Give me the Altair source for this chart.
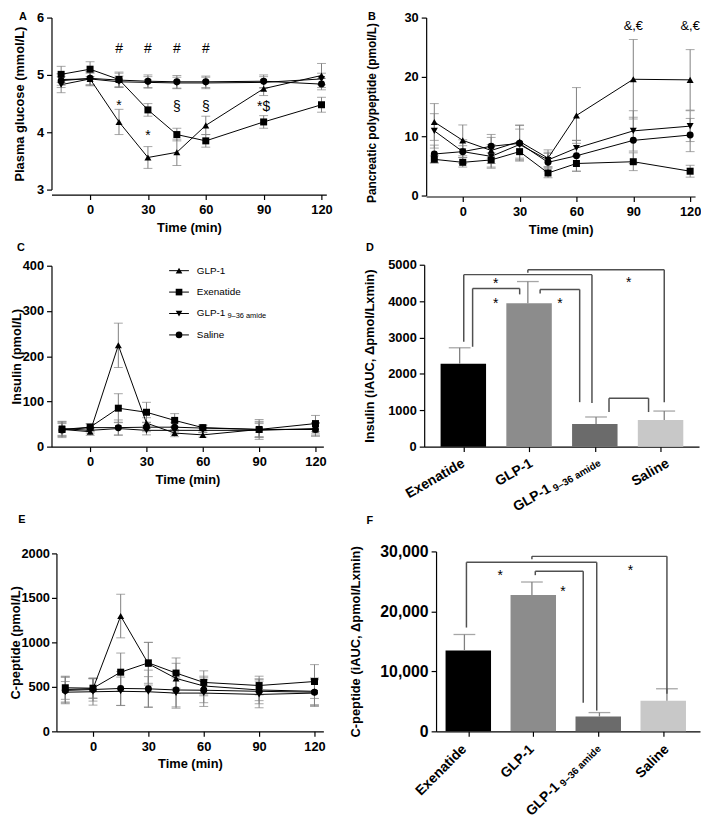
import math
import altair as alt
import pandas as pd

# ---------------- data ----------------
TIME = [-15, 0, 15, 30, 45, 60, 90, 120]
SERIES = ["GLP-1", "Exenatide", "GLP-1 9–36 amide", "Saline"]
GROUPS = ["Exenatide", "GLP-1", "GLP-1 9–36 amide", "Saline"]

GLUCOSE_MEAN = {
    "GLP-1": [4.92, 4.93, 4.18, 3.56, 3.65, 4.12, 4.76, 4.99],
    "Exenatide": [5.01, 5.10, 4.92, 4.39, 3.96, 3.85, 4.18, 4.48],
    "GLP-1 9–36 amide": [4.83, 4.93, 4.88, 4.87, 4.86, 4.86, 4.87, 4.93],
    "Saline": [4.90, 4.94, 4.91, 4.89, 4.88, 4.88, 4.89, 4.84],
}
GLUCOSE_SEM = {
    "GLP-1": [0.10, 0.10, 0.22, 0.19, 0.23, 0.16, 0.12, 0.21],
    "Exenatide": [0.14, 0.13, 0.13, 0.11, 0.11, 0.11, 0.11, 0.13],
    "GLP-1 9–36 amide": [0.14, 0.12, 0.10, 0.10, 0.10, 0.10, 0.10, 0.10],
    "Saline": [0.12, 0.12, 0.12, 0.11, 0.11, 0.10, 0.11, 0.10],
}
GLUCOSE_NOTE_T = [15, 30, 45, 60, 15, 30, 45, 60, 90]
GLUCOSE_NOTE_Y = [5.45, 5.45, 5.45, 5.45, 4.46, 3.94, 4.445, 4.445, 4.445]
GLUCOSE_NOTE_TEXT = ["#", "#", "#", "#", "*", "*", "§", "§", "*$"]

PP_MEAN = {
    "GLP-1": [12.4, 9.3, 7.6, 9.1, 6.3, 13.5, 19.6, 19.5],
    "Exenatide": [6.1, 5.6, 6.0, 7.4, 3.8, 5.4, 5.7, 4.1],
    "GLP-1 9–36 amide": [10.9, 7.4, 6.6, 8.6, 6.0, 8.0, 10.9, 11.7],
    "Saline": [7.0, 7.4, 8.3, 8.8, 5.6, 6.7, 9.3, 10.2],
}
PP_SEM = {
    "GLP-1": [3.1, 2.6, 2.2, 2.8, 1.4, 4.7, 6.7, 5.1],
    "Exenatide": [0.6, 0.8, 1.2, 1.4, 0.8, 1.3, 1.5, 1.0],
    "GLP-1 9–36 amide": [2.9, 2.0, 2.0, 2.6, 1.3, 1.3, 3.4, 2.6],
    "Saline": [1.5, 1.0, 2.0, 3.0, 1.5, 2.6, 3.9, 2.8],
}
PP_NOTE_T = [90, 120]
PP_NOTE_Y = [28.5, 28.5]
PP_NOTE_TEXT = ["&,€", "&,€"]

INSULIN_MEAN = {
    "GLP-1": [38, 33, 224, 52, 30, 26, 38, 38],
    "Exenatide": [38, 43, 85, 76, 58, 42, 38, 51],
    "GLP-1 9–36 amide": [40, 36, 40, 36, 36, 36, 36, 40],
    "Saline": [37, 42, 42, 43, 43, 41, 38, 38],
}
INSULIN_SEM = {
    "GLP-1": [15, 8, 49, 12, 8, 5, 18, 15],
    "Exenatide": [18, 8, 32, 22, 15, 6, 22, 18],
    "GLP-1 9–36 amide": [15, 6, 14, 10, 8, 5, 15, 12],
    "Saline": [14, 8, 17, 10, 10, 6, 16, 14],
}

CPEP_MEAN = {
    "GLP-1": [470, 480, 1296, 760, 595, 510, 465, 450],
    "Exenatide": [490, 485, 665, 770, 655, 550, 515, 560],
    "GLP-1 9–36 amide": [440, 445, 450, 445, 430, 430, 415, 430],
    "Saline": [460, 470, 482, 478, 465, 462, 450, 440],
}
CPEP_SEM = {
    "GLP-1": [140, 110, 245, 240, 170, 110, 120, 150],
    "Exenatide": [130, 110, 215, 230, 170, 130, 105, 190],
    "GLP-1 9–36 amide": [120, 150, 160, 170, 170, 150, 150, 150],
    "Saline": [150, 130, 190, 210, 190, 140, 140, 150],
}

INSULIN_AUC = [2280, 3940, 625, 734]
INSULIN_AUC_SEM = [437, 598, 190, 244]
CPEP_AUC = [13500, 22750, 2470, 5100]
CPEP_AUC_SEM = [2650, 2150, 660, 2000]

# significance brackets: left group pos, right group pos, top, left-leg end, right-leg end
INSULIN_BRACKETS = [
    (1.00, 3.00, 4864, 4783, 1223),
    (0.06, 1.94, 4728, 2880, 1196),
    (0.19, 0.88, 4348, 2745, 4185),
    (1.18, 1.76, 4321, 4212, 1223),
    (2.19, 2.77, 1332, 951, 951),
]
INSULIN_STARS = [(2.48, 4484), (0.53, 4457), (0.53, 3913), (1.47, 3913)]
CPEP_BRACKETS = [
    (1.00, 3.00, 29176, 28681, 6264),
    (0.03, 1.96, 28187, 17308, 3462),
    (1.05, 1.76, 26703, 26044, 4780),
]
CPEP_STARS = [(2.46, 26703), (0.53, 25879), (1.46, 23242)]

# ---------------- style ----------------
FONT = "Liberation Sans, Arial, Helvetica, sans-serif"
SHAPE_SCALE = alt.Scale(domain=SERIES, range=["triangle-up", "square", "triangle-down", "circle"])
BAR_SCALE = alt.Scale(domain=GROUPS, range=["#000000", "#8c8c8c", "#6b6b6b", "#c8c8c8"])
ERR_COLOR = "#808080"
BRACKET_COLOR = "#505050"
W, H = 701, 814


def off(page_y):
    """axis offset that puts a bottom axis at a page row"""
    return page_y - 8 - H


def axis(orient, offset, values, title, title_pad, label_pad, fmt=None, labels=True,
         label_size=13, title_size=13, title_y=None):
    kw = dict(orient=orient, offset=offset, values=values, grid=False, labels=labels,
              labelFont=FONT, labelFontSize=label_size, labelFontWeight="bold", labelColor="black",
              labelPadding=label_pad, labelFlush=False, labelOverlap=False,
              tickSize=5, tickWidth=1.2, tickColor="black", domainColor="black", domainWidth=1.2,
              title=title, titleFont=FONT, titleFontSize=title_size, titleFontWeight="bold",
              titleColor="black", titlePadding=title_pad)
    if fmt:
        kw["format"] = fmt
    if title_y is not None:
        kw["titleY"] = title_y
    return alt.Axis(**kw)


def time_panel(mean, sem, xdom, xrng, ydom, yrng, xoff, yoff, yvals, ytitle, ytpad,
               notes=None, yfmt=None, ylpad=3, ytsize=13, ytitle_y=None):
    rows = []
    for s in SERIES:
        for t, m, e in zip(TIME, mean[s], sem[s]):
            rows.append({"series": s, "time": t, "mean": m, "lo": m - e, "hi": m + e})
    df = pd.DataFrame(rows)

    def xs():
        return alt.Scale(domain=xdom, range=xrng, nice=False, zero=False)

    def ys():
        return alt.Scale(domain=ydom, range=yrng, nice=False, zero=False)

    def X():
        return alt.X("time:Q", scale=xs(), axis=None)

    base = alt.Chart(df)
    err = base.mark_rule(color=ERR_COLOR, strokeWidth=1).encode(
        x=alt.X("time:Q", scale=xs(), axis=axis("bottom", xoff, [0, 30, 60, 90, 120], "Time (min)", 5, 4)),
        y=alt.Y("lo:Q", scale=ys(), axis=axis("left", yoff, yvals, ytitle, ytpad, ylpad, fmt=yfmt,
                                               title_size=ytsize, title_y=ytitle_y)),
        y2="hi:Q",
    )
    cap_lo = base.mark_tick(color=ERR_COLOR, orient="horizontal", size=9, thickness=1).encode(
        x=X(), y=alt.Y("lo:Q", scale=ys(), axis=None))
    cap_hi = base.mark_tick(color=ERR_COLOR, orient="horizontal", size=9, thickness=1).encode(
        x=X(), y=alt.Y("hi:Q", scale=ys(), axis=None))
    line = base.mark_line(color="black", strokeWidth=1).encode(
        x=X(), y=alt.Y("mean:Q", scale=ys(), axis=None), detail="series:N", order="time:Q")
    pts = base.mark_point(filled=True, color="black", opacity=1, size=50).encode(
        x=X(), y=alt.Y("mean:Q", scale=ys(), axis=None),
        shape=alt.Shape("series:N", scale=SHAPE_SCALE, legend=None))
    layers = [err, cap_lo, cap_hi, line, pts]
    if notes:
        nt, ny, ntext, fsize = notes
        ndf = pd.DataFrame({"time": nt, "y": ny, "label": ntext})
        layers.append(alt.Chart(ndf).mark_text(font=FONT, fontSize=fsize, color="black",
                                               baseline="middle", align="center").encode(
            x=X(), y=alt.Y("y:Q", scale=ys(), axis=None), text="label:N"))
    return layers


def rot_offset(sx, sy, angle):
    a = math.radians(angle)
    c, s = math.cos(a), math.sin(a)
    return c * sx + s * sy, -s * sx + c * sy


def bar_panel(vals, sems, brackets, stars, xdom, xrng, ydom, yrng, xoff, yoff, yvals,
              ytitle, ytpad, yfmt, ylsize, angle, lab_off, sub_size, sub_shift):
    df = pd.DataFrame({"group": GROUPS, "pos": list(range(len(GROUPS))), "val": vals,
                       "hi": [v + e for v, e in zip(vals, sems)]})

    def xs():
        return alt.Scale(domain=xdom, range=xrng, nice=False, zero=False)

    def ys():
        return alt.Scale(domain=ydom, range=yrng, nice=False, zero=False)

    def X(f="pos:Q"):
        return alt.X(f, scale=xs(), axis=None)

    def Y(f):
        return alt.Y(f, scale=ys(), axis=None)

    bars = alt.Chart(df).transform_calculate(base="0").mark_bar(size=46).encode(
        x=alt.X("pos:Q", scale=xs(), axis=axis("bottom", xoff, [0, 1, 2, 3], "", 0, 0, labels=False)),
        y=alt.Y("val:Q", scale=ys(), axis=axis("left", yoff, yvals, ytitle, ytpad, 3, fmt=yfmt,
                                                label_size=ylsize)),
        y2="base:Q",
        color=alt.Color("group:N", scale=BAR_SCALE, legend=None),
    )
    err = alt.Chart(df).mark_rule(color=ERR_COLOR, strokeWidth=1.3).encode(
        x=X(), y=Y("val:Q"), y2="hi:Q")
    cap = alt.Chart(df).mark_tick(color=ERR_COLOR, orient="horizontal", size=22, thickness=1.3).encode(
        x=X(), y=Y("hi:Q"))

    bdf = pd.DataFrame(brackets, columns=["xl", "xr", "top", "bl", "br"])
    bch = alt.Chart(bdf)
    hor = bch.mark_rule(color=BRACKET_COLOR, strokeWidth=1.5).encode(
        x=X("xl:Q"), x2="xr:Q", y=Y("top:Q"))
    leg_l = bch.mark_rule(color=BRACKET_COLOR, strokeWidth=1.5).encode(
        x=X("xl:Q"), y=Y("top:Q"), y2="bl:Q")
    leg_r = bch.mark_rule(color=BRACKET_COLOR, strokeWidth=1.5).encode(
        x=X("xr:Q"), y=Y("top:Q"), y2="br:Q")
    sdf = pd.DataFrame(stars, columns=["sx", "sy"]).assign(label="*")
    st = alt.Chart(sdf).mark_text(font=FONT, fontSize=14, color="black", baseline="middle").encode(
        x=X("sx:Q"), y=Y("sy:Q"), text="label:N")

    main = [g.split(" ")[0] if "amide" in g else g for g in GROUPS]
    sub = [g.split(" ", 1)[1] if "amide" in g else "" for g in GROUPS]
    ldf = pd.DataFrame({"pos": list(range(len(GROUPS))), "main": main, "sub": sub,
                        "has_sub": [s != "" for s in sub]})
    dx, dy = rot_offset(lab_off[0], lab_off[1], angle)
    common = dict(font=FONT, fontWeight="bold", color="black", angle=angle, align="right",
                  baseline="middle")
    lab_plain = alt.Chart(ldf).transform_filter("!datum.has_sub").transform_calculate(base="0").mark_text(
        fontSize=14, dx=dx, dy=dy, **common).encode(x=X(), y=Y("base:Q"), text="main:N")
    lab_main = alt.Chart(ldf).transform_filter("datum.has_sub").transform_calculate(base="0").mark_text(
        fontSize=14, dx=dx - sub_shift, dy=dy - 3, **common).encode(x=X(), y=Y("base:Q"), text="main:N")
    lab_sub = alt.Chart(ldf).transform_filter("datum.has_sub").transform_calculate(base="0").mark_text(
        fontSize=sub_size, dx=dx, dy=dy, **common).encode(x=X(), y=Y("base:Q"), text="sub:N")
    return [bars, err, cap, hor, leg_l, leg_r, st, lab_plain, lab_main, lab_sub]


def letter(ch, x, y):
    return alt.Chart(pd.DataFrame({"k": [0]})).mark_text(
        font=FONT, fontSize=11, fontWeight="bold", color="black", align="center", baseline="middle"
    ).encode(x=alt.value(x), y=alt.value(y), text=alt.value(ch))


def legend_layers():
    ldf = pd.DataFrame({"series": SERIES, "idx": list(range(len(SERIES))),
                        "main": [s.split(" ")[0] for s in SERIES],
                        "sub": [s.split(" ", 1)[1] if " " in s else "" for s in SERIES]})

    def Y():
        return alt.Y("idx:Q", scale=alt.Scale(domain=[0, 3], range=[261, 326], nice=False, zero=False),
                     axis=None)

    base = alt.Chart(ldf)
    ln = base.mark_rule(color="black", strokeWidth=1).encode(x=alt.value(163), x2=alt.value(183), y=Y())
    pt = base.mark_point(filled=True, color="black", opacity=1, size=45).encode(
        x=alt.value(173), y=Y(), shape=alt.Shape("series:N", scale=SHAPE_SCALE, legend=None))
    tx = base.mark_text(font=FONT, fontSize=10, color="black", align="left", baseline="middle").encode(
        x=alt.value(191), y=Y(), text="main:N")
    sb = base.transform_filter("datum.sub != ''").mark_text(
        font=FONT, fontSize=7.5, color="black", align="left", baseline="middle", dy=3).encode(
        x=alt.value(222), y=Y(), text="sub:N")
    return [ln, pt, tx, sb]


layers = []
layers += time_panel(GLUCOSE_MEAN, GLUCOSE_SEM, [-20, 122.5], [44, 322], [3, 6], [179, 5],
                     off(192), -44, [3, 4, 5, 6], "Plasma glucose (mmol/L)", 10,
                     notes=(GLUCOSE_NOTE_T, GLUCOSE_NOTE_Y, GLUCOSE_NOTE_TEXT, 14))
layers += time_panel(PP_MEAN, PP_SEM, [-19.3, 122.6], [423, 695], [0, 30], [185, 5],
                     off(194), -423, [0, 10, 20, 30], "Pancreatic polypeptide (pmol/L)", 26,
                     notes=(PP_NOTE_T, PP_NOTE_Y, PP_NOTE_TEXT, 13), ytsize=12, ytitle_y=101)
layers += time_panel(INSULIN_MEAN, INSULIN_SEM, [-20.6, 124.2], [44, 319], [0, 400], [439, 256],
                     off(447), -44, [0, 100, 200, 300, 400], "Insulin (pmol/L)", -1)
layers += bar_panel(INSULIN_AUC, INSULIN_AUC_SEM, INSULIN_BRACKETS, INSULIN_STARS,
                    [-0.52, 3.51], [421, 699], [0, 5000], [439, 255], off(447), -421,
                    [0, 1000, 2000, 3000, 4000, 5000], "Insulin (iAUC, Δpmol/Lxmin)", 11, "d", 13,
                    330, (4, 16), 10, 57)
layers += time_panel(CPEP_MEAN, CPEP_SEM, [-19.8, 124.8], [49, 319], [0, 2000], [727, 547],
                     off(735), -49, [0, 500, 1000, 1500, 2000], "C-peptide (pmol/L)", -2,
                     yfmt="d", ylpad=2)
layers += bar_panel(CPEP_AUC, CPEP_AUC_SEM, CPEP_BRACKETS, CPEP_STARS,
                    [-0.42, 3.49], [433, 700], [0, 30000], [727, 545], off(735), -433,
                    [0, 10000, 20000, 30000], "C-peptide (iAUC, Δpmol/Lxmin)", 17, ",d", 16,
                    315, (0, 16), 10, 57)
layers += legend_layers()
layers += [letter("A", 15, 4), letter("B", 368, 4), letter("C", 13, 238),
           letter("D", 366, 238), letter("E", 14, 513), letter("F", 366, 514)]

chart = alt.layer(*layers).resolve_scale(
    x="independent", y="independent"
).resolve_axis(x="independent", y="independent").properties(
    width=W, height=H, autosize=alt.AutoSizeParams(type="none"), padding=0
).configure_view(strokeWidth=0)

chart.save("out.html", embed_options={"renderer": "svg", "actions": False})
